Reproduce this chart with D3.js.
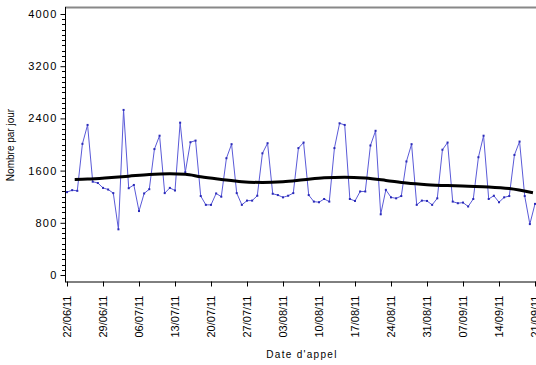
<!DOCTYPE html>
<html>
<head>
<meta charset="utf-8">
<script src="https://cdn.jsdelivr.net/npm/d3@7"></script>
<style>
  body { margin: 0; background: #fff; }
  svg { display: block; }
  text { font-family: "Liberation Sans", Arial, sans-serif; fill: #000; }
</style>
</head>
<body>
<svg id="plot" width="536" height="365"></svg>
<script>
// first day of the series, one value per day after it
const startDate = new Date(2011, 5, 22);

const callsPerDay = [
  1270, 1300, 1290, 2010, 2300, 1430, 1410, 1335, 1310, 1255, 700, 2530, 1330, 1380,
  980, 1250, 1315, 1930, 2135, 1255, 1335, 1295, 2335, 1575, 2035, 2060, 1210, 1075,
  1075, 1250, 1200, 1790, 2005, 1255, 1075, 1140, 1140, 1215, 1865, 2020, 1245, 1225,
  1190, 1215, 1255, 1945, 2030, 1225, 1125, 1115, 1165, 1125, 1945, 2325, 2300, 1165,
  1135, 1280, 1280, 1985, 2210, 930, 1305, 1190, 1175, 1210, 1740, 2005, 1075, 1140,
  1135, 1075, 1175, 1920, 2030, 1125, 1100, 1110, 1050, 1165, 1805, 2135, 1165, 1215,
  1115, 1190, 1210, 1840, 2045, 1210, 780, 1090
];

// smoothed trend, read at a few points (day offset, value)
const trendDays = [1.5, 4, 8, 12, 16, 20, 23, 26, 30, 34, 38, 42, 46, 50, 54, 58, 62, 66, 70, 74, 78, 82, 86, 90.6];
const trendValues = [1465, 1470, 1490, 1515, 1540, 1550, 1545, 1505, 1465, 1430, 1418, 1430, 1460, 1490, 1500, 1485, 1450, 1410, 1385, 1370, 1360, 1350, 1325, 1262];

const yTicks = [0, 800, 1600, 2400, 3200, 4000];
const xTickLabels = ['22/06/11', '29/06/11', '06/07/11', '13/07/11', '20/07/11', '27/07/11', '03/08/11',
                     '10/08/11', '17/08/11', '24/08/11', '31/08/11', '07/09/11', '14/09/11', '21/09/11'];

const plot = d3.select('#plot');

const dayDate = d => startDate.getTime() + d * 864e5;
const calls = callsPerDay.map((v, i) => ({ date: new Date(dayDate(i)), value: v }));
const trend = trendDays.map((d, i) => ({ date: new Date(dayDate(d)), value: trendValues[i] }));
const tickDates = xTickLabels.map((s, i) => new Date(dayDate(i * 7)));

const xScale = d3.scaleTime()
  .domain([startDate, new Date(dayDate(91))])
  .range([67, 535]);

const yScale = d3.scaleLinear()
  .domain([0, 4000])
  .range([275, 14]);

// frame: top border
plot.append('line')
  .attr('x1', 65).attr('x2', 536)
  .attr('y1', 7.5).attr('y2', 7.5)
  .attr('stroke', '#888').attr('stroke-width', 2);

// minor y ticks
const minor = d3.range(0, 4001, 80).filter(v => v % 800 !== 0);
plot.append('g')
  .selectAll('line')
  .data(minor)
  .join('line')
  .attr('x1', 62).attr('x2', 65)
  .attr('y1', d => Math.round(yScale(d)) + 0.5)
  .attr('y2', d => Math.round(yScale(d)) + 0.5)
  .attr('stroke', '#000');

const yAxis = d3.axisLeft(yScale)
  .tickValues(yTicks)
  .tickFormat(d3.format('d'))
  .tickSizeInner(5)
  .tickSizeOuter(0)
  .tickPadding(3);

plot.append('g')
  .classed('yAxis', true)
  .attr('transform', 'translate(65.5, 0)')
  .call(yAxis);

plot.select('.yAxis .domain').remove();
plot.selectAll('.yAxis text')
  .style('font-size', '11px')
  .style('letter-spacing', '1.2px')
  .style('font-family', '"Liberation Sans", Arial, sans-serif');

// left axis line
plot.append('line')
  .attr('x1', 65.5).attr('x2', 65.5)
  .attr('y1', 7).attr('y2', 282)
  .attr('stroke', '#000');

const xAxis = d3.axisBottom(xScale)
  .tickValues(tickDates)
  .tickFormat((d, i) => xTickLabels[i])
  .tickSizeInner(5)
  .tickSizeOuter(0);

plot.append('g')
  .classed('xAxis', true)
  .attr('transform', 'translate(0, 281.5)')
  .call(xAxis);

plot.select('.xAxis .domain')
  .attr('d', 'M65,0.5H536');

plot.selectAll('.xAxis text')
  .attr('text-anchor', 'end')
  .attr('dy', '0.35em')
  .attr('y', 0)
  .attr('x', -14)
  .attr('transform', 'rotate(-90)')
  .style('font-size', '11px')
  .style('font-family', '"Liberation Sans", Arial, sans-serif');

// daily calls
const line = d3.line()
  .x(d => xScale(d.date))
  .y(d => yScale(d.value));

plot.append('path')
  .attr('d', line(calls))
  .attr('fill', 'none')
  .attr('stroke', '#5a5ad8')
  .attr('stroke-width', 1);

plot.append('g')
  .selectAll('rect')
  .data(calls)
  .join('rect')
  .attr('x', d => xScale(d.date) - 1)
  .attr('y', d => yScale(d.value) - 1)
  .attr('width', 2)
  .attr('height', 2)
  .attr('fill', '#2a2ab8');

// smoothed trend
const trendLine = d3.line()
  .curve(d3.curveMonotoneX)
  .x(d => xScale(d.date))
  .y(d => yScale(d.value));

plot.append('path')
  .attr('d', trendLine(trend))
  .attr('fill', 'none')
  .attr('stroke', '#000')
  .attr('stroke-width', 3);

// axis titles
plot.append('text')
  .attr('text-anchor', 'middle')
  .attr('transform', 'translate(14, 145) rotate(-90)')
  .style('font-size', '10px')
  .text('Nombre par jour');

plot.append('text')
  .attr('text-anchor', 'middle')
  .attr('x', 302)
  .attr('y', 358)
  .style('font-size', '10px')
  .style('letter-spacing', '1.3px')
  .text("Date d'appel");
</script>
</body>
</html>
